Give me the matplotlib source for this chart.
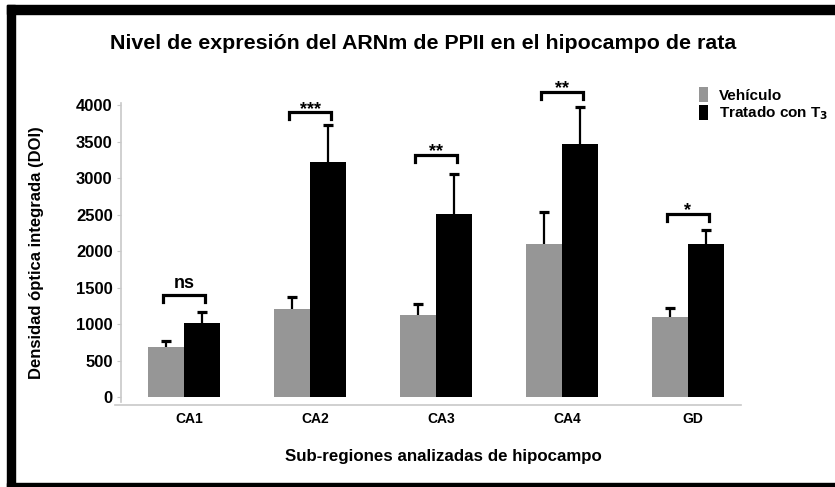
import matplotlib
matplotlib.use("Agg")
import matplotlib.pyplot as plt
from matplotlib.patches import Rectangle
import numpy as np

plt.rcParams['font.family'] = ['Liberation Sans', 'DejaVu Sans']

# data
regiones = ['CA1', 'CA2', 'CA3', 'CA4', 'GD']
vehiculo = [690, 1210, 1130, 2100, 1100]
vehiculo_err = [80, 160, 140, 440, 120]
tratado = [1010, 3220, 2510, 3460, 2100]
tratado_err = [160, 500, 550, 520, 190]
signif = ['ns', '***', '**', '**', '*']
bracket_y = [1400, 3900, 3320, 4180, 2510]

x = np.arange(len(regiones))
w = 0.285

fig = plt.figure(figsize=(8.35, 4.87), dpi=100)
ax = fig.add_axes([121/835, 0.1743, 630/835, 0.6145])

ax.bar(x - w/2, vehiculo, w, color='#969696', label='Vehículo')
ax.bar(x + w/2, tratado, w, color='black', label=r'Tratado con T$_\mathbf{3}$')

# upper error bars only
cap = 0.04
for xs, vals, errs in [(x - w/2, vehiculo, vehiculo_err), (x + w/2, tratado, tratado_err)]:
    tops = np.array(vals) + np.array(errs)
    ax.vlines(xs, vals, tops, color='black', lw=1.6)
    ax.hlines(tops, xs - cap, xs + cap, color='black', lw=2.3)

# significance brackets
for i in range(len(regiones)):
    x0, x1 = x[i] - 0.17, x[i] + 0.17
    y = bracket_y[i]
    ax.plot([x0, x0, x1, x1], [y - 95, y, y, y - 95], color='black', lw=2.3,
            solid_joinstyle='miter', clip_on=False)
    off = 100 if signif[i] == 'ns' else -20
    ax.text(x[i], y + off, signif[i], ha='center', va='baseline', fontsize=13,
            fontweight='bold')

for s in ['top', 'right']:
    ax.spines[s].set_visible(False)
for s in ['left', 'bottom']:
    ax.spines[s].set_color('#c8c8c8')
    ax.spines[s].set_linewidth(1.2)
ax.spines['bottom'].set_position(('data', -110))
ax.spines['bottom'].set_bounds(-0.55, 4.42)

ax.set_xlim(-0.5, 4.5)
ax.set_ylim(-70, 4030)
ax.set_yticks(range(0, 4001, 500))
ax.set_xticks(x + 0.04)
ax.set_xticklabels(regiones, fontweight='bold')
ax.set_yticklabels([str(v) for v in range(0, 4001, 500)], fontweight='bold')
ax.tick_params(axis='y', length=3, color='#c8c8c8', labelsize=12, pad=3)
ax.tick_params(axis='x', length=0, labelsize=10, pad=5)

ax.set_ylabel('Densidad óptica integrada (DOI)', fontsize=12, fontweight='bold')
ax.yaxis.set_label_coords(-0.122, 0.5)
ax.set_xlabel('Sub-regiones analizadas de hipocampo', fontsize=12.2, fontweight='bold')
ax.xaxis.set_label_coords(0.512, -0.155)
fig.suptitle('Nivel de expresión del ARNm de PPII en el hipocampo de rata', x=0.507, y=0.93,
             fontsize=15.4, fontweight='bold')

leg = ax.legend(loc='upper left', bbox_to_anchor=(0.908, 1.075), frameon=False, fontsize=11,
                handlelength=0.6, handleheight=1.2, handletextpad=0.7, labelspacing=0.15,
                borderaxespad=0)
for t in leg.get_texts():
    t.set_fontweight('bold')

# black frame: left, top and bottom only
for r in [(7/835, 0, 8/835, 1 - 5/487), (7/835, 1 - 14/487, 1 - 7/835, 9/487),
          (7/835, 0, 1 - 7/835, 4/487)]:
    fig.patches.append(Rectangle(r[:2], r[2], r[3], transform=fig.transFigure,
                                 color='black', zorder=10))

fig.savefig('out.png', dpi=100)
